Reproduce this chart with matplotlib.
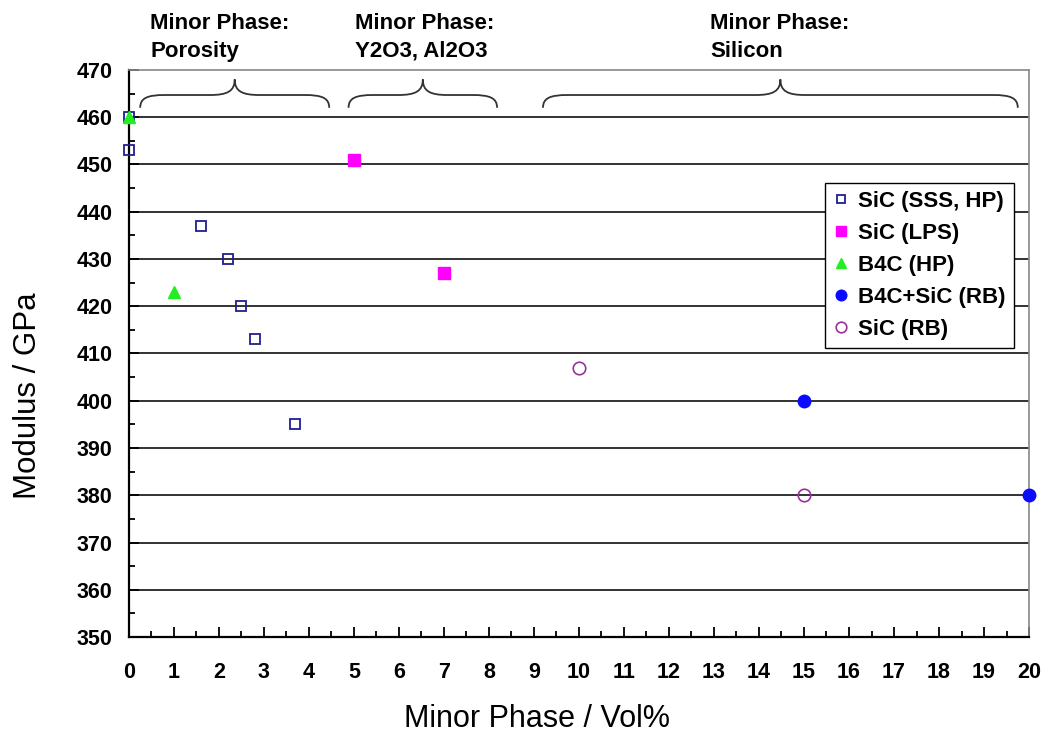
import numpy as np
import matplotlib.pyplot as plt
from matplotlib.path import Path
from matplotlib.patches import PathPatch

plt.rcParams['font.family'] = ['Liberation Sans', 'DejaVu Sans']

# Modulus vs. minor phase content
sss_x = [0, 0, 1.6, 2.2, 2.5, 2.8, 3.7]
sss_y = [460, 453, 437, 430, 420, 413, 395]
lps_x = [5, 7]
lps_y = [451, 427]
b4c_x = [0, 1]
b4c_y = [460, 423]
b4csic_x = [15, 20]
b4csic_y = [400, 380]
sicrb_x = [10, 15]
sicrb_y = [407, 380]

groups = ['Minor Phase:\nPorosity', 'Minor Phase:\nY2O3, Al2O3', 'Minor Phase:\nSilicon']
group_spans = [(0.25, 4.45), (4.88, 8.18), (9.2, 19.75)]
group_text_x = [0.47, 5.02, 12.91]

fig = plt.figure(figsize=(10.45, 7.35), dpi=100)
ax = fig.add_axes([0.1234, 0.1333, 0.8613, 0.7715])

ax.set_xlim(0, 20)
ax.set_ylim(350, 470)
for yv in range(360, 470, 10):
    ax.axhline(yv, color='#222222', lw=1.3, zorder=1)

ax.plot(sss_x, sss_y, ls='none', marker='s', ms=7, mfc='none', mec='#1f1f8f', mew=1.3,
        label='SiC (SSS, HP)', clip_on=False, zorder=5)
ax.plot(lps_x, lps_y, ls='none', marker='s', ms=9, color='#ff00ff',
        label='SiC (LPS)', clip_on=False, zorder=5)
ax.plot(b4c_x, b4c_y, ls='none', marker='^', ms=8, color='#22ee22',
        label='B4C (HP)', clip_on=False, zorder=6)
ax.plot(b4csic_x, b4csic_y, ls='none', marker='o', ms=9, color='#0a0aff',
        label='B4C+SiC (RB)', clip_on=False, zorder=5)
ax.plot(sicrb_x, sicrb_y, ls='none', marker='o', ms=9, mfc='none', mec='#993399', mew=1.2,
        label='SiC (RB)', clip_on=False, zorder=5)


def brace(x0, x1, yb=462.0, yf=464.7, yt=468.0, w=0.55):
    xm = (x0 + x1) / 2
    verts = [(x0, yb),
             (x0, yf - 0.6), (x0 + w * 0.3, yf), (x0 + w, yf),
             (xm - w, yf),
             (xm - w * 0.3, yf), (xm, yf + 0.8), (xm, yt),
             (xm, yf + 0.8), (xm + w * 0.3, yf), (xm + w, yf),
             (x1 - w, yf),
             (x1 - w * 0.3, yf), (x1, yf - 0.6), (x1, yb)]
    codes = [Path.MOVETO,
             Path.CURVE4, Path.CURVE4, Path.CURVE4,
             Path.LINETO,
             Path.CURVE4, Path.CURVE4, Path.CURVE4,
             Path.CURVE4, Path.CURVE4, Path.CURVE4,
             Path.LINETO,
             Path.CURVE4, Path.CURVE4, Path.CURVE4]
    return PathPatch(Path(verts, codes), fc='none', ec='#333333', lw=1.3, zorder=3)


for (a, b), name, tx in zip(group_spans, groups, group_text_x):
    ax.add_patch(brace(a, b))
    ax.text(tx, 482.0, name, fontsize=16, fontweight='bold', ha='left', va='top',
            linespacing=1.4, clip_on=False)

ax.set_xticks(np.arange(0, 21, 1))
ax.set_xticks(np.arange(0.5, 20, 1), minor=True)
ax.set_yticks(np.arange(350, 471, 10))
ax.set_yticks(np.arange(355, 470, 10), minor=True)
ax.tick_params(axis='both', which='major', direction='in', length=7, width=1.3,
               labelsize=15.5)
ax.tick_params(axis='both', which='minor', direction='in', length=4, width=1.3)
ax.tick_params(axis='x', which='major', pad=18)
ax.tick_params(axis='y', which='major', pad=12)
for lab in ax.get_xticklabels() + ax.get_yticklabels():
    lab.set_fontweight('bold')

ax.spines['left'].set_linewidth(1.6)
ax.spines['bottom'].set_linewidth(1.6)
ax.spines['top'].set_color('#888888')
ax.spines['right'].set_color('#888888')
ax.spines['top'].set_linewidth(1.2)
ax.spines['right'].set_linewidth(1.2)

ax.set_xlabel('Minor Phase / Vol%', fontsize=22)
ax.set_ylabel('Modulus / GPa', fontsize=22.5)
ax.xaxis.set_label_coords(0.453, -0.118)
ax.yaxis.set_label_coords(-0.096, 0.425)

leg = ax.legend(loc='upper right', bbox_to_anchor=(0.983, 0.8007), borderaxespad=0,
                fancybox=False, edgecolor='black', framealpha=1, handlelength=0.7,
                handletextpad=0.45, borderpad=0.35, labelspacing=0.5, markerscale=0.85,
                prop={'weight': 'bold', 'size': 16})
leg.get_frame().set_linewidth(1.0)
leg.set_zorder(10)

fig.savefig('out.png', dpi=100)
